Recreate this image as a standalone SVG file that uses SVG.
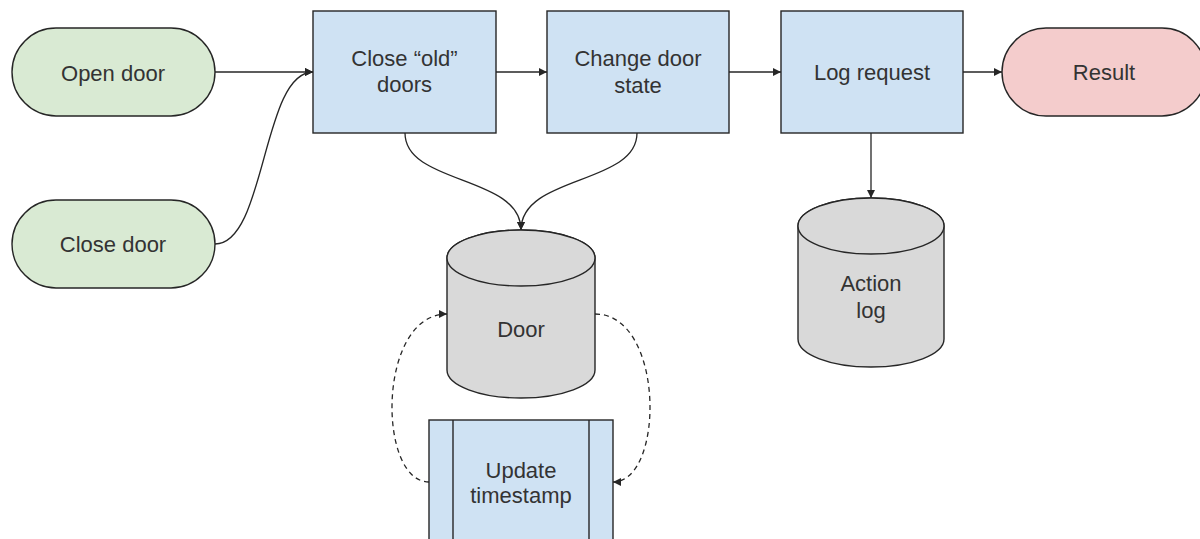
<svg xmlns="http://www.w3.org/2000/svg" width="1200" height="539" viewBox="0 0 1200 539">
  <style>
    .shape { stroke: #262626; stroke-width: 1.4; }
    .start { fill: #d9ead3; }
    .end { fill: #f4cccc; }
    .step { fill: #cfe2f3; }
    .store { fill: #d9d9d9; }
    .label { font-family: "Liberation Sans", Arial, sans-serif; font-size: 22px; fill: #333333; text-anchor: middle; }
    .edge { fill: none; stroke: #262626; stroke-width: 1.3; }
    .dashed { stroke-dasharray: 5 4; }
  </style>
  <defs>
    <marker id="arrow" viewBox="0 0 10 10" refX="10" refY="5" markerWidth="8" markerHeight="8" markerUnits="userSpaceOnUse" orient="auto">
      <path d="M0,0 L10,5 L0,10 Z" fill="#262626"/>
    </marker>
  </defs>

  <rect width="1200" height="539" fill="#ffffff"/>

  <!-- connectors -->
  <g id="connectors">
    <path class="edge" d="M215,72 L313,72" marker-end="url(#arrow)"/>
    <path class="edge" d="M215,244 C266,244 262,72 313,72" marker-end="url(#arrow)"/>
    <path class="edge" d="M496,72 L547,72" marker-end="url(#arrow)"/>
    <path class="edge" d="M729,72 L781,72" marker-end="url(#arrow)"/>
    <path class="edge" d="M963,72 L1002,72" marker-end="url(#arrow)"/>
    <path class="edge" d="M871,133 L871,198" marker-end="url(#arrow)"/>
    <path class="edge" d="M405,133 C405,185 521,175 521,230" marker-end="url(#arrow)"/>
    <path class="edge" d="M637,133 C637,185 521,175 521,230" marker-end="url(#arrow)"/>
    <path class="edge dashed" d="M429,482 C377,482 377,314 447,314" marker-end="url(#arrow)"/>
    <path class="edge dashed" d="M595,314 C665,314 665,482 613,482" marker-end="url(#arrow)"/>
  </g>

  <g id="open-door">
    <rect class="shape start" x="12" y="28" width="203" height="88" rx="44" ry="44"/>
    <text class="label" x="113" y="81">Open door</text>
  </g>

  <g id="close-door">
    <rect class="shape start" x="12" y="200" width="203" height="88" rx="44" ry="44"/>
    <text class="label" x="113" y="252">Close door</text>
  </g>

  <g id="close-old-doors">
    <rect class="shape step" x="313" y="11" width="183" height="122"/>
    <text class="label" x="404.5" y="66">Close “old”</text>
    <text class="label" x="404.5" y="92">doors</text>
  </g>

  <g id="change-door-state">
    <rect class="shape step" x="547" y="11" width="182" height="122"/>
    <text class="label" x="638" y="66">Change door</text>
    <text class="label" x="638" y="93">state</text>
  </g>

  <g id="log-request">
    <rect class="shape step" x="781" y="11" width="182" height="122"/>
    <text class="label" x="872" y="80">Log request</text>
  </g>

  <g id="result">
    <rect class="shape end" x="1002" y="28" width="204" height="88" rx="44" ry="44"/>
    <text class="label" x="1104" y="80">Result</text>
  </g>

  <g id="action-log">
    <path class="shape store" d="M798,226 L798,339 A73,28 0 0,0 944,339 L944,226 A73,28 0 0,0 798,226 Z"/>
    <ellipse class="shape store" cx="871" cy="226" rx="73" ry="28"/>
    <text class="label" x="871" y="291">Action</text>
    <text class="label" x="871" y="318">log</text>
  </g>

  <g id="door">
    <path class="shape store" d="M447,258 L447,370 A74,28 0 0,0 595,370 L595,258 A74,28 0 0,0 447,258 Z"/>
    <ellipse class="shape store" cx="521" cy="258" rx="74" ry="28"/>
    <text class="label" x="521" y="337">Door</text>
  </g>

  <g id="update-timestamp">
    <rect class="shape step" x="429" y="420" width="184" height="130"/>
    <line class="shape" x1="453" y1="420" x2="453" y2="550"/>
    <line class="shape" x1="589" y1="420" x2="589" y2="550"/>
    <text class="label" x="521" y="478">Update</text>
    <text class="label" x="521" y="503">timestamp</text>
  </g>
</svg>
